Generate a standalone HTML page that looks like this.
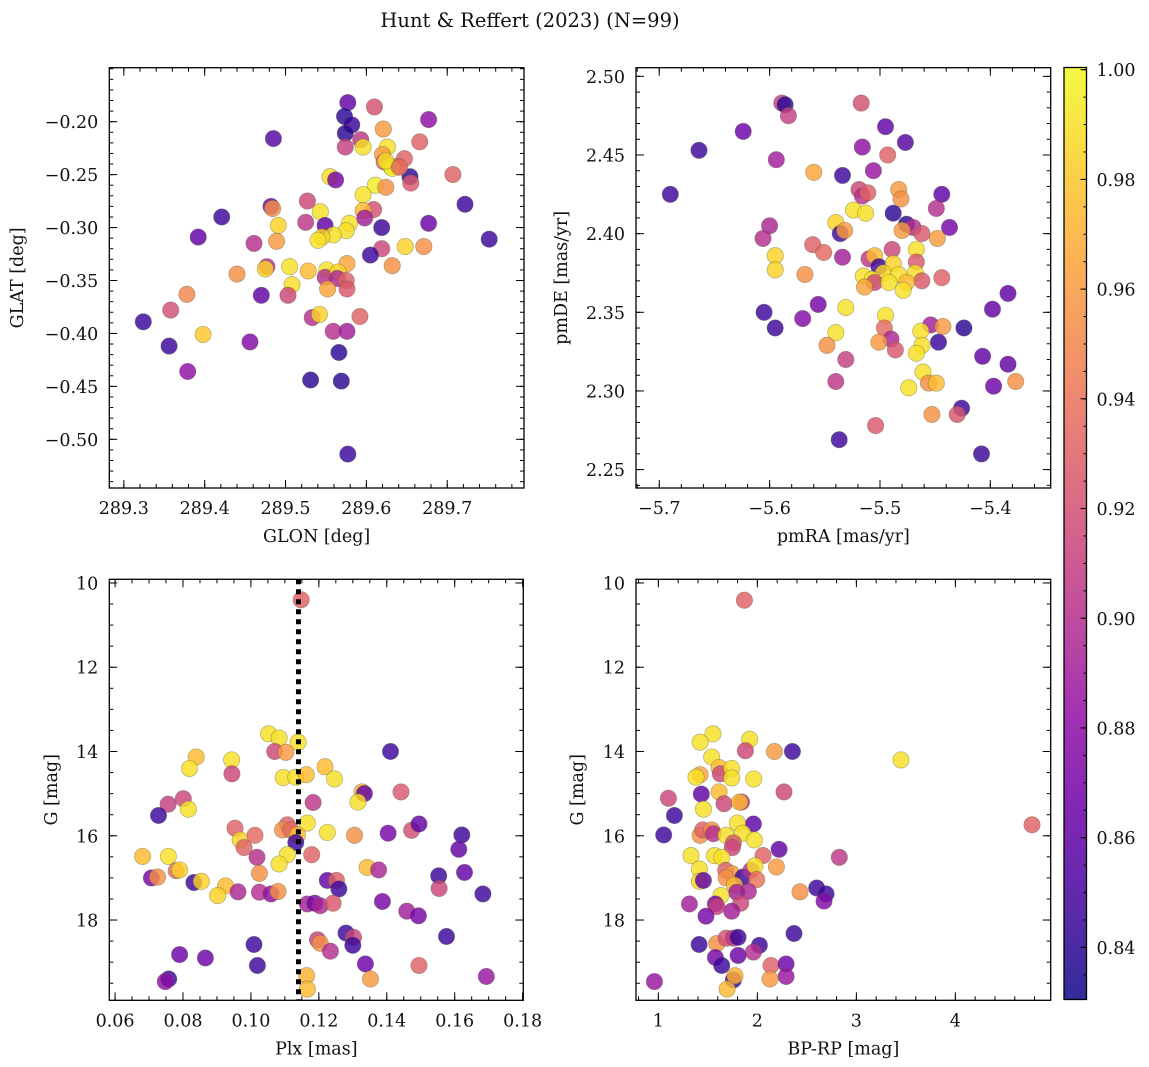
<!DOCTYPE html>
<html><head><meta charset="utf-8">
<style>
html,body{margin:0;padding:0;background:#fff;}
svg{display:block;font-family:"DejaVu Serif","Liberation Serif",serif;}
</style></head>
<body>
<svg id="fig" width="1149" height="1067" viewBox="0 0 1149 1067" xmlns="http://www.w3.org/2000/svg">
<text x="530" y="27" text-anchor="middle" font-size="19.5" fill="#111">Hunt &amp; Reffert (2023) (N=99)</text>
</svg>
<script>
// ---- Panel 1: GLON / GLAT ----
const glon1 = [289.577,289.610,289.677,289.573,289.582,289.574,289.485,289.593,289.621,289.574,289.596,289.666,289.626,289.620,289.622,289.630,289.639,289.647,289.632,289.654,289.655,289.707,289.555,289.562,289.611,289.624,289.596,289.527,289.482,289.484,289.609,289.596,289.543,289.421,289.598,289.525,289.491,289.579,289.549,289.619,289.677,289.575,289.559,289.545,289.540,289.392,289.752,289.461,289.489,289.648,289.671,289.619,289.605,289.722,289.576,289.632,289.440,289.477,289.475,289.505,289.528,289.551,289.549,289.565,289.564,289.575,289.576,289.508,289.552,289.378,289.470,289.503,289.358,289.533,289.542,289.592,289.324,289.559,289.576,289.398,289.456,289.356,289.566,289.379,289.531,289.569,289.577,289.624,289.641];
const glat1 = [-0.182,-0.186,-0.198,-0.195,-0.203,-0.211,-0.216,-0.217,-0.207,-0.224,-0.224,-0.219,-0.224,-0.231,-0.238,-0.242,-0.242,-0.235,-0.244,-0.252,-0.258,-0.250,-0.252,-0.255,-0.260,-0.262,-0.269,-0.275,-0.280,-0.282,-0.283,-0.284,-0.285,-0.290,-0.291,-0.295,-0.298,-0.296,-0.298,-0.300,-0.296,-0.303,-0.307,-0.309,-0.312,-0.309,-0.311,-0.315,-0.313,-0.318,-0.318,-0.320,-0.326,-0.278,-0.334,-0.336,-0.344,-0.337,-0.339,-0.337,-0.341,-0.340,-0.347,-0.342,-0.348,-0.350,-0.358,-0.354,-0.358,-0.363,-0.364,-0.364,-0.378,-0.385,-0.382,-0.384,-0.389,-0.398,-0.398,-0.401,-0.408,-0.412,-0.418,-0.436,-0.444,-0.445,-0.514,-0.237,-0.243];
const prob1 = [0.86,0.92,0.88,0.84,0.845,0.84,0.855,0.905,0.96,0.91,0.99,0.93,0.99,0.96,0.93,0.99,0.94,0.93,0.995,0.84,0.925,0.93,0.99,0.87,0.995,0.955,0.99,0.915,0.86,0.955,0.92,0.975,0.99,0.845,0.89,0.905,0.985,0.99,0.86,0.845,0.865,0.99,0.99,0.985,0.99,0.86,0.845,0.9,0.96,0.985,0.955,0.915,0.845,0.845,0.965,0.955,0.955,0.9,0.985,0.99,0.975,0.99,0.9,0.985,0.895,0.93,0.925,0.99,0.965,0.95,0.86,0.915,0.92,0.9,0.985,0.93,0.845,0.9,0.89,0.98,0.875,0.845,0.84,0.88,0.84,0.84,0.845,0.99,0.935];
// ---- Panel 2: pmRA / pmDE ----
const pmra2 = [-5.589,-5.586,-5.583,-5.517,-5.624,-5.664,-5.495,-5.477,-5.516,-5.493,-5.594,-5.560,-5.534,-5.506,-5.690,-5.519,-5.516,-5.511,-5.483,-5.481,-5.444,-5.449,-5.524,-5.513,-5.488,-5.540,-5.476,-5.470,-5.437,-5.600,-5.606,-5.536,-5.532,-5.480,-5.462,-5.448,-5.561,-5.551,-5.595,-5.595,-5.568,-5.534,-5.510,-5.505,-5.501,-5.489,-5.467,-5.488,-5.467,-5.468,-5.515,-5.497,-5.483,-5.462,-5.444,-5.507,-5.505,-5.514,-5.492,-5.476,-5.479,-5.384,-5.605,-5.556,-5.531,-5.398,-5.570,-5.595,-5.495,-5.496,-5.454,-5.443,-5.463,-5.424,-5.540,-5.490,-5.447,-5.548,-5.501,-5.462,-5.486,-5.467,-5.531,-5.407,-5.384,-5.461,-5.540,-5.456,-5.449,-5.397,-5.377,-5.474,-5.426,-5.430,-5.453,-5.504,-5.537,-5.408];
const pmde2 = [2.483,2.482,2.475,2.483,2.465,2.453,2.468,2.458,2.455,2.450,2.447,2.439,2.437,2.440,2.425,2.428,2.424,2.426,2.428,2.422,2.425,2.416,2.415,2.413,2.413,2.407,2.406,2.404,2.404,2.405,2.397,2.400,2.402,2.402,2.400,2.397,2.393,2.388,2.386,2.377,2.374,2.385,2.384,2.386,2.379,2.390,2.390,2.381,2.382,2.375,2.373,2.375,2.374,2.370,2.372,2.371,2.369,2.366,2.369,2.369,2.364,2.362,2.350,2.355,2.353,2.352,2.346,2.340,2.348,2.340,2.342,2.341,2.338,2.340,2.337,2.333,2.331,2.329,2.331,2.329,2.326,2.324,2.320,2.322,2.317,2.312,2.306,2.305,2.305,2.303,2.306,2.302,2.289,2.285,2.285,2.278,2.269,2.260];
const prob2 = [0.91,0.84,0.91,0.92,0.865,0.845,0.86,0.855,0.88,0.93,0.89,0.965,0.845,0.885,0.845,0.915,0.9,0.93,0.96,0.955,0.86,0.9,0.99,0.99,0.84,0.985,0.84,0.9,0.87,0.895,0.9,0.845,0.96,0.96,0.925,0.96,0.93,0.935,0.985,0.985,0.955,0.89,0.905,0.975,0.845,0.915,0.99,0.985,0.925,0.99,0.99,0.985,0.99,0.925,0.93,0.99,0.915,0.965,0.99,0.975,0.99,0.86,0.845,0.87,0.99,0.86,0.875,0.845,0.99,0.935,0.89,0.96,0.99,0.84,0.99,0.895,0.845,0.955,0.96,0.99,0.925,0.99,0.91,0.86,0.86,0.99,0.905,0.955,0.975,0.865,0.955,0.99,0.845,0.925,0.955,0.925,0.845,0.845];
// ---- Panel 3: Plx / G ----
const plx3 = [0.1148,0.1052,0.1083,0.1139,0.1070,0.1103,0.1411,0.0839,0.0819,0.0943,0.0944,0.1095,0.1132,0.1163,0.1218,0.1246,0.1327,0.1334,0.1315,0.1442,0.1183,0.0756,0.0801,0.0816,0.0728,0.0953,0.1107,0.1093,0.1117,0.1166,0.1137,0.1132,0.0968,0.0980,0.1012,0.1225,0.1305,0.1404,0.1473,0.1495,0.1621,0.1612,0.0681,0.0757,0.1018,0.1107,0.1083,0.1179,0.0707,0.0725,0.0780,0.0790,0.0832,0.0854,0.1025,0.0925,0.0902,0.0962,0.1025,0.1059,0.1080,0.1342,0.1376,0.1225,0.1252,0.1259,0.1553,0.1629,0.1554,0.1683,0.1166,0.1188,0.1204,0.1242,0.1387,0.1459,0.1493,0.1280,0.1302,0.1300,0.1196,0.1204,0.1234,0.1009,0.0790,0.0866,0.1019,0.1337,0.1495,0.1576,0.0758,0.0748,0.1164,0.1166,0.1352,0.1693];
const g3 = [10.40,13.58,13.68,13.78,14.00,14.02,14.00,14.13,14.40,14.20,14.53,14.62,14.61,14.55,14.36,14.65,14.96,15.00,15.20,14.96,15.21,15.25,15.12,15.37,15.52,15.82,15.74,15.86,15.86,15.70,15.98,16.16,16.10,16.28,15.99,15.92,15.99,15.94,15.87,15.72,15.98,16.32,16.49,16.49,16.51,16.45,16.67,16.45,17.00,16.98,16.83,16.81,17.11,17.08,16.89,17.19,17.42,17.33,17.34,17.38,17.32,16.75,16.81,17.06,17.06,17.26,16.95,16.87,17.25,17.38,17.62,17.60,17.66,17.60,17.56,17.79,17.90,18.31,18.41,18.60,18.47,18.55,18.74,18.58,18.82,18.90,19.08,19.04,19.08,18.39,19.40,19.46,19.32,19.64,19.40,19.34];
const prob3 = [0.93,0.99,0.99,0.99,0.915,0.96,0.845,0.975,0.99,0.99,0.915,0.99,0.99,0.975,0.975,0.99,0.97,0.86,0.99,0.925,0.905,0.91,0.915,0.99,0.845,0.93,0.93,0.955,0.935,0.99,0.975,0.845,0.985,0.93,0.935,0.99,0.955,0.87,0.92,0.86,0.845,0.86,0.975,0.99,0.9,0.99,0.99,0.93,0.87,0.955,0.935,0.985,0.845,0.985,0.955,0.975,0.985,0.895,0.9,0.88,0.955,0.975,0.895,0.86,0.93,0.845,0.845,0.86,0.915,0.845,0.89,0.87,0.895,0.925,0.87,0.89,0.87,0.845,0.915,0.845,0.91,0.955,0.9,0.845,0.865,0.865,0.845,0.865,0.93,0.845,0.845,0.88,0.97,0.975,0.96,0.885];
const plxRef = [0.114];
// ---- Panel 4: BP-RP / G ----
const bprp4 = [1.869,1.552,1.421,1.923,1.879,2.172,2.354,3.451,1.539,1.613,1.626,1.741,1.741,1.421,1.380,1.963,2.269,1.101,1.434,1.613,1.663,1.455,1.84,1.82,1.162,1.054,1.960,1.798,1.421,1.448,1.539,1.556,1.684,1.852,1.970,1.758,1.747,2.219,2.057,2.828,4.774,1.330,1.566,1.640,1.414,1.414,1.455,1.680,1.744,1.684,1.855,1.936,1.976,1.993,1.768,1.909,1.791,2.192,1.633,2.431,2.599,2.694,2.673,1.313,1.576,1.589,1.832,1.741,1.481,1.411,1.589,1.684,1.758,1.805,2.370,2.020,1.960,1.576,1.640,1.805,2.138,2.290,2.290,2.128,1.758,1.774,1.694,0.960];
const g4 = [10.41,13.58,13.78,13.71,13.98,14.00,14.00,14.20,14.13,14.38,14.53,14.40,14.63,14.55,14.61,14.65,14.96,15.11,15.01,14.96,15.24,15.37,15.20,15.20,15.52,15.98,15.72,15.70,15.99,15.86,15.86,15.95,15.99,15.94,16.10,16.17,16.28,16.32,16.47,16.51,15.74,16.47,16.47,16.51,16.79,17.08,17.06,16.82,16.90,17.00,16.98,16.82,16.71,17.04,17.17,17.32,17.34,16.74,17.42,17.33,17.24,17.38,17.55,17.62,17.62,17.68,17.60,17.79,17.91,18.58,18.56,18.43,18.43,18.41,18.32,18.60,18.76,18.89,19.08,18.84,19.08,19.04,19.34,19.40,19.42,19.32,19.64,19.46];
const prob4 = [0.93,0.99,0.99,0.99,0.915,0.96,0.845,0.99,0.99,0.975,0.915,0.99,0.99,0.965,0.99,0.99,0.915,0.915,0.86,0.975,0.915,0.99,0.9,0.975,0.845,0.845,0.86,0.99,0.955,0.93,0.955,0.9,0.99,0.99,0.99,0.925,0.915,0.86,0.93,0.905,0.93,0.99,0.99,0.99,0.99,0.985,0.86,0.93,0.96,0.955,0.845,0.9,0.99,0.94,0.975,0.895,0.89,0.96,0.99,0.955,0.845,0.845,0.875,0.89,0.87,0.91,0.915,0.89,0.87,0.845,0.955,0.92,0.905,0.845,0.845,0.845,0.9,0.87,0.845,0.865,0.93,0.865,0.885,0.96,0.845,0.97,0.975,0.885];
// ---- Colorbar ----
const cbTicks = [0.84,0.86,0.88,0.90,0.92,0.94,0.96,0.98,1.00];
const cbRange = [0.8305,1.0004];

const NS = "http://www.w3.org/2000/svg";
const svg = document.getElementById('fig');
function el(tag, attrs, parent){
  const e = document.createElementNS(NS, tag);
  for (const k in attrs) e.setAttribute(k, attrs[k]);
  (parent||svg).appendChild(e);
  return e;
}
const stops = ["#0d0887","#41049d","#6a00a8","#8f0da4","#b12a90","#cc4778","#e16462","#f2844b","#fca636","#fcce25","#f0f921"];
function hex(h){return [parseInt(h.slice(1,3),16),parseInt(h.slice(3,5),16),parseInt(h.slice(5,7),16)];}
function plasma(t){
  t=Math.max(0,Math.min(1,t));
  const f=t*10, i=Math.min(9,Math.floor(f)), r=f-i;
  const a=hex(stops[i]), b=hex(stops[i+1]);
  return "rgb("+a.map((v,k)=>Math.round(v+(b[k]-v)*r)).join(",")+")";
}
function cmap(p){return plasma((p-cbRange[0])/(cbRange[1]-cbRange[0]));}
function fmt(v,d){const s=Math.abs(v).toFixed(d);return (v<-1e-9?"\u2212":"")+s;}

function panel(cfg){
  const {name,x0,x1,y0,y1,xr,yr,xt,xmin,yt,ymin,xd,yd,xlabel,ylabel,ylx,yinv} = cfg;
  const g = el('g',{});
  
  
  const sx = v => x0 + (v-xr[0])/(xr[1]-xr[0])*(x1-x0);
  const sy = yinv ? (v => y0 + (v-yr[0])/(yr[1]-yr[0])*(y1-y0)) : (v => y1 - (v-yr[0])/(yr[1]-yr[0])*(y1-y0));
  const clip = el('clipPath',{id:'c'+name},g);
  el('rect',{x:x0,y:y0,width:x1-x0,height:y1-y0},clip);
  const pts = el('g',{'clip-path':'url(#c'+name+')'},g);
  
  
  for(let i=0;i<cfg.xs.length;i++){
    const c = el('circle',{cx:sx(cfg.xs[i]).toFixed(1),cy:sy(cfg.ys[i]).toFixed(1),r:8.2,fill:cmap(cfg.ps[i]),'fill-opacity':0.82,stroke:'rgba(90,90,60,0.45)','stroke-width':0.7},pts);
    
    
  }
  if(cfg.vline){
    const l = el('line',{x1:sx(cfg.vline[0]),x2:sx(cfg.vline[0]),y1:y0,y2:y1,stroke:'#000','stroke-width':5,'stroke-dasharray':'5,5'},pts);
    
    
  }
  const tk = el('g',{stroke:'#000','stroke-width':1},g);
  const eps=1e-9;
  for(let v=Math.ceil((xr[0])/xmin)*xmin; v<=xr[1]+eps; v+=xmin){
    const X=sx(v); if(X<x0||X>x1) continue;
    el('line',{x1:X,x2:X,y1:y1,y2:y1-4},tk); el('line',{x1:X,x2:X,y1:y0,y2:y0+4},tk);
  }
  for(let v=Math.ceil((yr[0])/ymin)*ymin; v<=yr[1]+eps; v+=ymin){
    const Y=sy(v); if(Y<y0||Y>y1) continue;
    el('line',{x1:x0,x2:x0+4,y1:Y,y2:Y},tk); el('line',{x1:x1,x2:x1-4,y1:Y,y2:Y},tk);
  }
  for(const v of xt){
    const X=sx(v);
    el('line',{x1:X,x2:X,y1:y1,y2:y1-8},tk); el('line',{x1:X,x2:X,y1:y0,y2:y0+8},tk);
    const t=el('text',{x:X,y:y1+26,'text-anchor':'middle','font-size':17.5,fill:'#111'},g);
    t.textContent=fmt(v,xd);
    
    
  }
  for(const v of yt){
    const Y=sy(v);
    el('line',{x1:x0,x2:x0+8,y1:Y,y2:Y},tk); el('line',{x1:x1,x2:x1-8,y1:Y,y2:Y},tk);
    const t=el('text',{x:x0-11,y:Y+6.5,'text-anchor':'end','font-size':17.5,fill:'#111'},g);
    t.textContent=fmt(v,yd);
    
    
  }
  const fr = el('rect',{x:x0,y:y0,width:x1-x0,height:y1-y0,fill:'none',stroke:'#000','stroke-width':1.3},g);
  
  
  const xl=el('text',{x:(x0+x1)/2,y:y1+54,'text-anchor':'middle','font-size':17.5,fill:'#111'},g);
  xl.textContent=xlabel;
  
  
  const cy=(y0+y1)/2;
  const yl=el('text',{x:ylx,y:cy,'text-anchor':'middle','font-size':17.5,fill:'#111',transform:'rotate(-90 '+ylx+' '+cy+')'},g);
  yl.textContent=ylabel;
  
  
}
function rng(a,b,s){const o=[];for(let v=a;v<=b+1e-9;v+=s)o.push(Math.round(v*1e6)/1e6);return o;}

panel({name:'glon-glat-panel',x0:109.3,x1:524,y0:67.7,y1:488,xr:[289.282,289.795],yr:[-0.546,-0.149],
  xt:rng(289.3,289.7,0.1),xmin:0.02,yt:rng(-0.5,-0.2,0.05),ymin:0.01,xd:1,yd:2,
  xlabel:'GLON [deg]',ylabel:'GLAT [deg]',ylx:23,xs:glon1,ys:glat1,ps:prob1});
panel({name:'pm-panel',x0:636,x1:1050.7,y0:67.7,y1:488,xr:[-5.7211,-5.3453],yr:[2.2383,2.5055],
  xt:rng(-5.7,-5.4,0.1),xmin:0.02,yt:rng(2.25,2.5,0.05),ymin:0.01,xd:1,yd:2,
  xlabel:'pmRA [mas/yr]',ylabel:'pmDE [mas/yr]',ylx:567,xs:pmra2,ys:pmde2,ps:prob2});
panel({name:'plx-g-panel',x0:109.3,x1:523.3,y0:579.3,y1:1000.3,xr:[0.0583,0.1802],yr:[9.913,19.905],yinv:true,
  xt:rng(0.06,0.18,0.02),xmin:0.005,yt:rng(10,18,2),ymin:0.5,xd:2,yd:0,
  xlabel:'Plx [mas]',ylabel:'G [mag]',ylx:57,xs:plx3,ys:g3,ps:prob3,vline:plxRef});
panel({name:'cmd-panel',x0:636,x1:1050.7,y0:579.3,y1:1000.3,xr:[0.774,4.963],yr:[9.913,19.905],yinv:true,
  xt:rng(1,4,1),xmin:0.2,yt:rng(10,18,2),ymin:0.5,xd:0,yd:0,
  xlabel:'BP-RP [mag]',ylabel:'G [mag]',ylx:583,xs:bprp4,ys:g4,ps:prob4});

// colorbar
const cb = el('g',{});


const cx0=1064, cx1=1086.5, cy0=67.5, cy1=999.5;
const defs = el('defs',{},cb);
const lg = el('linearGradient',{id:'cbg',x1:0,y1:1,x2:0,y2:0},defs);
for(let i=0;i<=20;i++){ el('stop',{offset:(i/20),'stop-color':plasma(i/20)},lg); }
const cbr = el('rect',{x:cx0,y:cy0,width:cx1-cx0,height:cy1-cy0,fill:'url(#cbg)','fill-opacity':0.85,stroke:'#000','stroke-width':1.3},cb);


const cys = v => cy1 - (v-cbRange[0])/(cbRange[1]-cbRange[0])*(cy1-cy0);
for(let v=0.835; v<=1.0001; v+=0.005){
  const Y=cys(v); el('line',{x1:cx1,x2:cx1-3,y1:Y,y2:Y,stroke:'#000','stroke-width':1},cb);
}
for(const v of cbTicks){
  const Y=cys(v);
  el('line',{x1:cx1,x2:cx1-6,y1:Y,y2:Y,stroke:'#000','stroke-width':1},cb);
  const t=el('text',{x:cx1+10,y:Y+6.5,'font-size':17.5,fill:'#111'},cb);
  t.textContent=v.toFixed(2);
  
  
}
</script>
</body></html>
